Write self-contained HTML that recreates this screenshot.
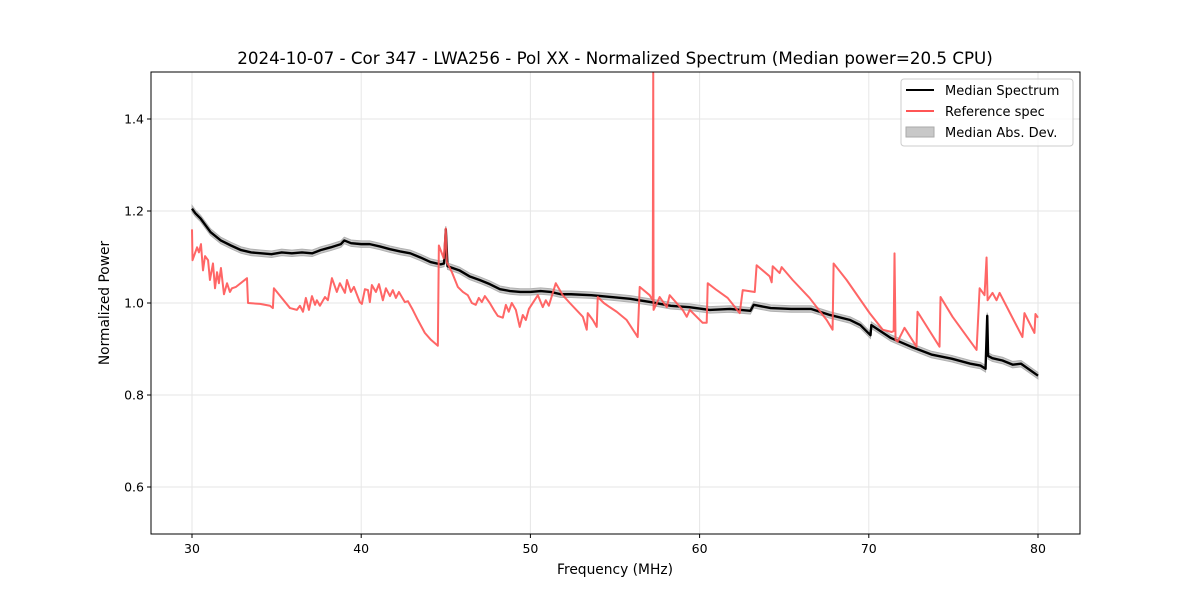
<!DOCTYPE html>
<html><head><meta charset="utf-8"><style>
body{margin:0;background:#fff;}
svg text{font-family:"DejaVu Sans","Liberation Sans",sans-serif;fill:#000;}
</style></head><body>
<svg id="chart" width="1200" height="600" xmlns="http://www.w3.org/2000/svg">
<rect width="1200" height="600" fill="#fff"/>
<text x="615" y="64" font-size="16.7" text-anchor="middle">2024-10-07 - Cor 347 - LWA256 - Pol XX - Normalized Spectrum (Median power=20.5 CPU)</text>
<g id="grid"></g>
<g id="marks"></g>
<rect x="151" y="72" width="929" height="462" fill="none" stroke="#000" stroke-width="1"/>
<g id="ticks"></g>
<text x="615" y="574" font-size="13.8" text-anchor="middle">Frequency (MHz)</text>
<text transform="translate(109,303) rotate(-90)" font-size="13.8" text-anchor="middle">Normalized Power</text>
<g>
<rect x="901" y="79" width="172" height="67" rx="3" fill="#fff" fill-opacity="0.8" stroke="#ccc"/>
<line x1="906" y1="90" x2="934" y2="90" stroke="#000" stroke-width="2"/>
<text x="945" y="95" font-size="13">Median Spectrum</text>
<line x1="906" y1="111" x2="934" y2="111" stroke="#ff5555" stroke-width="2"/>
<text x="945" y="116" font-size="13">Reference spec</text>
<rect x="906" y="127" width="28" height="10" fill="#c8c8c8" stroke="#aaa"/>
<text x="945" y="137" font-size="13">Median Abs. Dev.</text>
</g>
</svg>
<script>
const xTicks=[30,40,50,60,70,80];
const yTicks=[0.6,0.8,1.0,1.2,1.4];
const yTickLabels=["0.6","0.8","1.0","1.2","1.4"];
const medFreq=[30,30.2,30.5,31.1,31.7,32.3,32.9,33.5,34.1,34.7,35.3,35.9,36.5,37.1,37.6,38.2,38.8,39.0,39.4,40.0,40.5,41.1,41.7,42.3,42.9,43.5,44.1,44.7,44.9,45.0,45.1,45.8,46.4,47.0,47.6,48.2,48.8,49.4,50,50.6,51.2,51.8,52.4,53.6,54.8,55.9,57.1,57.7,58.3,59.4,60.6,61.8,63.0,63.2,64.2,65.4,66.6,67.7,68.9,69.5,70.1,70.15,71.3,72.5,73.7,74.9,76.0,76.6,76.9,77.0,77.05,77.3,77.9,78.5,79.0,80];
const medVal=[1.205,1.195,1.184,1.154,1.136,1.125,1.115,1.110,1.108,1.106,1.110,1.108,1.110,1.108,1.115,1.121,1.128,1.136,1.130,1.128,1.128,1.123,1.117,1.112,1.108,1.099,1.089,1.084,1.086,1.160,1.080,1.071,1.058,1.050,1.041,1.030,1.026,1.024,1.024,1.026,1.024,1.019,1.019,1.017,1.013,1.009,1.002,0.998,0.994,0.991,0.985,0.987,0.983,0.996,0.989,0.987,0.987,0.974,0.963,0.952,0.930,0.952,0.924,0.905,0.888,0.879,0.868,0.864,0.857,0.972,0.885,0.880,0.875,0.866,0.868,0.842];
const madVal=0.007;
const refFreq=[30.00,30.03,30.30,30.41,30.53,30.65,30.77,30.95,31.06,31.24,31.36,31.48,31.59,31.71,31.89,32.07,32.24,32.36,32.60,33.25,33.31,34.02,34.61,34.78,34.84,35.79,36.20,36.38,36.56,36.73,36.91,37.09,37.27,37.38,37.56,37.86,38.03,38.27,38.56,38.74,39.04,39.16,39.39,39.57,39.92,40.04,40.22,40.40,40.51,40.63,40.87,41.05,41.28,41.46,41.70,41.87,42.05,42.23,42.58,42.76,43.05,43.35,43.76,44.12,44.53,44.59,44.88,45.00,45.06,45.36,45.71,46.01,46.30,46.54,46.77,46.95,47.13,47.31,47.60,47.84,48.07,48.37,48.55,48.72,48.90,49.14,49.37,49.55,49.73,49.91,50.44,50.73,50.91,51.09,51.50,51.91,52.33,53.10,53.33,53.39,53.69,53.92,53.98,54.34,54.69,55.10,55.69,56.34,56.46,57.05,57.23,57.26,57.28,57.64,58.06,58.23,59.00,59.24,59.42,60.18,60.42,60.48,61.01,61.66,62.37,62.55,63.26,63.37,64.14,64.26,64.32,64.73,64.85,65.50,66.50,67.51,67.86,67.92,68.69,70.05,70.82,71.35,71.47,71.52,71.58,71.70,72.11,72.82,72.88,74.18,74.24,74.95,76.37,76.55,76.84,76.96,77.02,77.31,77.55,77.73,79.08,79.20,79.79,79.85,80.0];
const refVal=[1.160,1.093,1.121,1.110,1.128,1.071,1.102,1.093,1.050,1.086,1.032,1.067,1.043,1.076,1.019,1.043,1.024,1.032,1.035,1.054,1.000,0.998,0.994,0.989,1.032,0.989,0.985,0.994,0.981,1.011,0.985,1.015,0.996,1.006,0.994,1.013,1.006,1.054,1.024,1.043,1.022,1.050,1.024,1.035,1.002,0.998,1.030,1.028,1.002,1.039,1.024,1.041,1.006,1.032,1.015,1.028,1.011,1.024,1.002,1.004,0.985,0.963,0.935,0.920,0.907,1.125,1.097,1.162,1.089,1.067,1.035,1.024,1.017,1.000,0.996,1.011,1.002,1.015,1.000,0.985,0.972,0.968,0.996,0.981,1.000,0.985,0.948,0.974,0.963,0.987,1.017,0.991,1.006,0.994,1.043,1.017,1.000,0.970,0.942,0.978,0.963,0.948,1.013,1.000,0.991,0.981,0.963,0.926,1.035,1.017,1.006,1.5,0.985,1.013,0.991,1.017,0.985,0.970,0.985,0.957,0.957,1.043,1.028,1.011,0.978,1.028,1.024,1.082,1.058,1.045,1.080,1.065,1.078,1.050,1.011,0.963,0.942,1.086,1.050,0.978,0.942,0.937,0.939,1.108,0.920,0.916,0.946,0.905,0.981,0.905,1.013,0.970,0.898,1.032,1.017,1.099,1.006,1.022,1.006,1.022,0.926,0.978,0.935,0.976,0.968];

const NS="http://www.w3.org/2000/svg";
const X0=151,X1=1080,Y0=72,Y1=534;
function xs(f){return 192+(f-30)*(1038-192)/50;}
function ys(v){return 303-(v-1.0)*(303-211)/0.2;}
const grid=document.getElementById('grid'),ticks=document.getElementById('ticks'),marks=document.getElementById('marks');
function mk(tag,attrs,parent){const e=document.createElementNS(NS,tag);for(const k in attrs)e.setAttribute(k,attrs[k]);parent.appendChild(e);return e;}
xTicks.forEach(t=>{
  const x=xs(t);
  const g=mk('line',{x1:x,x2:x,y1:Y0,y2:Y1,stroke:'#e6e6e6','stroke-width':1},grid);
  
  
  mk('line',{x1:x,x2:x,y1:Y1,y2:Y1+4,stroke:'#000'},ticks);
  const tx=mk('text',{x:x,y:Y1+19,'font-size':12.5,'text-anchor':'middle'},ticks);
  tx.textContent=t;
  
  
});
yTicks.forEach((t,i)=>{
  const y=ys(t);
  const g=mk('line',{x1:X0,x2:X1,y1:y,y2:y,stroke:'#e6e6e6','stroke-width':1},grid);
  
  
  mk('line',{x1:X0-4,x2:X0,y1:y,y2:y,stroke:'#000'},ticks);
  const tx=mk('text',{x:X0-7,y:y+4.5,'font-size':12.5,'text-anchor':'end'},ticks);
  tx.textContent=yTickLabels[i];
  
  
});
let up=medFreq.map((f,i)=>xs(f)+','+ys(medVal[i]+madVal));
let dn=medFreq.map((f,i)=>xs(f)+','+ys(medVal[i]-madVal)).reverse();
const band=mk('polygon',{points:up.concat(dn).join(' '),fill:'#c8c8c8',stroke:'#b0b0b0','stroke-width':1},marks);


const med=mk('polyline',{points:medFreq.map((f,i)=>xs(f)+','+ys(medVal[i])).join(' '),fill:'none',stroke:'#000','stroke-width':2.4,'stroke-linejoin':'round'},marks);


const ref=mk('polyline',{points:refFreq.map((f,i)=>xs(f)+','+ys(Math.min(refVal[i],1.5))).join(' '),fill:'none',stroke:'#ff5555','stroke-opacity':0.9,'stroke-width':2,'stroke-linejoin':'round'},marks);


</script>
</body></html>
